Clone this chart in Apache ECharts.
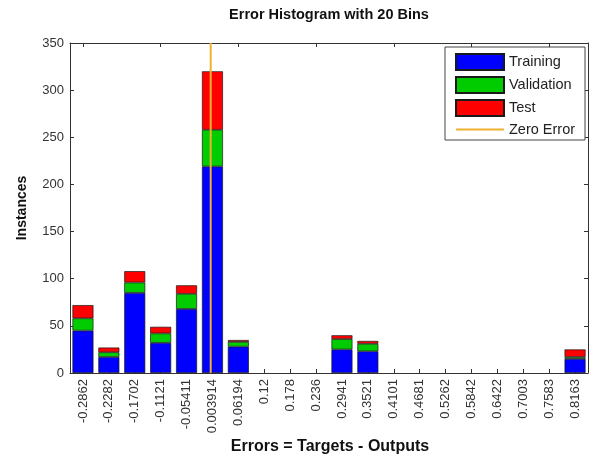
<!DOCTYPE html>
<html>
<head>
<meta charset="utf-8">
<script src="https://cdn.jsdelivr.net/npm/echarts@6/dist/echarts.min.js"></script>
<style>html,body{margin:0;padding:0;background:#fff}#c{width:593px;height:457px}</style>
</head>
<body>
<div id="c"></div>
<script>
const binLabels = ['-0.2862','-0.2282','-0.1702','-0.1121','-0.05411','0.003914','0.06194','0.12','0.178','0.236','0.2941','0.3521','0.4101','0.4681','0.5262','0.5842','0.6422','0.7003','0.7583','0.8163'];
const training   = [45, 17, 85, 32, 68, 219, 28, 0, 0, 0, 25, 23, 0, 0, 0, 0, 0, 0, 0, 15];
const validation = [13,  5, 11, 10, 16,  39,  5, 0, 0, 0, 11,  8, 0, 0, 0, 0, 0, 0, 0,  2];
const test       = [14,  5, 12,  7,  9,  62,  2, 0, 0, 0,  4,  3, 0, 0, 0, 0, 0, 0, 0,  8];
const yTicks = [0, 350, 50];
const binCenterFirst = -0.2862, binCenterLast = 0.8163;
const zeroError = [[0, 0], [0, 350]];

const binW = (binCenterLast - binCenterFirst) / (binLabels.length - 1);
const nz = (arr) => arr.map(v => (v === 0 ? null : v));
const chart = echarts.init(document.getElementById('c'), null, {renderer: 'canvas'});
const FONT = 'Liberation Sans';
const AX = '#333';
const ZC = '#f0b030';
const barStyle = (c) => ({color: c, borderColor: '#1a1a1a', borderWidth: 0.7});
chart.setOption({
  animation: false,
  backgroundColor: '#fff',
  textStyle: {fontFamily: FONT},
  grid: {left: 70, right: 5, top: 43, bottom: 84, containLabel: false},
  xAxis: [
    {type: 'category', data: binLabels, position: 'bottom',
     axisLine: {show: true, onZero: false, lineStyle: {color: AX, width: 1}},
     axisTick: {show: true, inside: true, alignWithLabel: true, length: 4, lineStyle: {color: AX}},
     axisLabel: {rotate: 90, fontSize: 13, color: '#333', margin: 6, fontFamily: FONT, interval: 0},
     splitLine: {show: false}},
    {type: 'category', data: binLabels, position: 'top',
     axisLine: {show: true, onZero: false, lineStyle: {color: AX, width: 1}},
     axisTick: {show: true, inside: true, alignWithLabel: true, length: 4, lineStyle: {color: AX}},
     axisLabel: {show: false}, splitLine: {show: false}},
    {type: 'value', min: binCenterFirst - binW / 2, max: binCenterLast + binW / 2, show: false}
  ],
  yAxis: [
    {type: 'value', min: yTicks[0], max: yTicks[1], interval: yTicks[2], position: 'left',
     axisLine: {show: true, onZero: false, lineStyle: {color: AX, width: 1}},
     axisTick: {show: true, inside: true, length: 4, lineStyle: {color: AX}},
     axisLabel: {fontSize: 13, color: '#333', margin: 6, fontFamily: FONT},
     splitLine: {show: false}},
    {type: 'value', min: yTicks[0], max: yTicks[1], interval: yTicks[2], position: 'right',
     axisLine: {show: true, onZero: false, lineStyle: {color: AX, width: 1}},
     axisTick: {show: true, inside: true, length: 4, lineStyle: {color: AX}},
     axisLabel: {show: false}, splitLine: {show: false}}
  ],
  legend: {
    orient: 'vertical', left: 455, top: 53, z: 10,
    itemWidth: 48, itemHeight: 16, itemGap: 5, padding: 0,
    textStyle: {fontSize: 14.5, color: '#222', fontFamily: FONT},
    data: [
      {name: 'Training', icon: 'rect'},
      {name: 'Validation', icon: 'rect'},
      {name: 'Test', icon: 'rect'},
      {name: 'Zero Error', itemStyle: {opacity: 0}, lineStyle: {color: ZC, width: 2, opacity: 1}}
    ]
  },
  graphic: [
    {type: 'rect', x: 445, y: 47, z: 1, silent: true,
     shape: {width: 140, height: 93}, style: {fill: '#fff', stroke: '#444', lineWidth: 1}},
    {type: 'text', x: 329, y: 15, z: 10,
     style: {text: 'Error Histogram with 20 Bins', font: 'bold 14.5px "Liberation Sans"', fill: '#111', align: 'center', verticalAlign: 'middle'}},
    {type: 'text', x: 330, y: 447, z: 10,
     style: {text: 'Errors = Targets - Outputs', font: 'bold 16px "Liberation Sans"', fill: '#111', align: 'center', verticalAlign: 'middle'}},
    {type: 'text', x: 22, y: 208, rotation: Math.PI / 2, z: 10,
     style: {text: 'Instances', font: 'bold 14px "Liberation Sans"', fill: '#111', align: 'center', verticalAlign: 'middle'}}
  ],
  series: [
    {name: 'Training', type: 'bar', stack: 'h', data: nz(training), barWidth: 21, itemStyle: barStyle('#0000ff')},
    {name: 'Validation', type: 'bar', stack: 'h', data: nz(validation), barWidth: 21, itemStyle: barStyle('#00cc00')},
    {name: 'Test', type: 'bar', stack: 'h', data: nz(test), barWidth: 21, itemStyle: barStyle('#ff0000')},
    {name: 'Zero Error', type: 'line', xAxisIndex: 2, yAxisIndex: 0, data: zeroError,
     symbol: 'none', lineStyle: {color: ZC, width: 2}, itemStyle: {color: ZC}, z: 4}
  ]
});
</script>
</body>
</html>
